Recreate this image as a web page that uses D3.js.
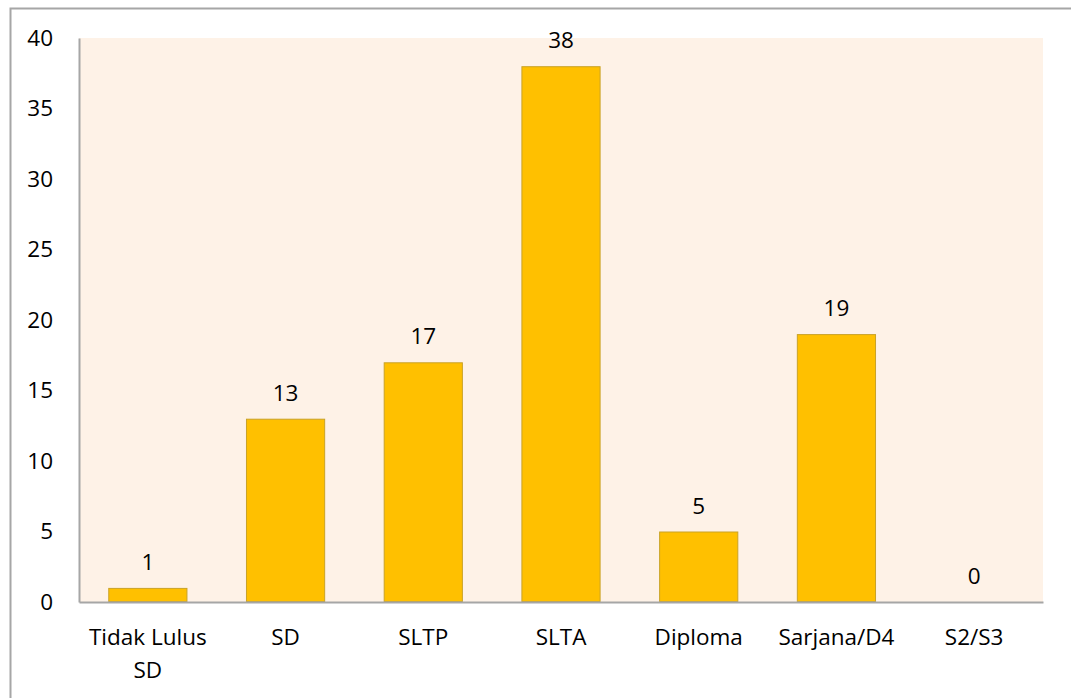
<!DOCTYPE html>
<html>
<head>
<meta charset="utf-8">
<script src="https://cdn.jsdelivr.net/npm/d3@7"></script>
<style>
  body { margin: 0; background: #fff; }
  text { font-family: "Open Sans", Lato, sans-serif; fill: #000; }
</style>
</head>
<body>
<svg></svg>
<script>
// kategori pendidikan dan jumlah
let categories = ["Tidak Lulus SD", "SD", "SLTP", "SLTA", "Diploma", "Sarjana/D4", "S2/S3"];
let values = [1, 13, 17, 38, 5, 19, 0];
let yTicks = [0, 5, 10, 15, 20, 25, 30, 35, 40];

let width = 1071;
let height = 698;
let fontSize = 22.5;
let fontFam = "'Open Sans', Lato, sans-serif";

let svg = d3.select("svg")
    .attr("width", width)
    .attr("height", height);

// frame of the chart box
svg.append("path")
    .attr("d", "M10.5," + height + " V8.5 H" + width)
    .attr("fill", "none")
    .attr("stroke", "#a6a6a6")
    .attr("stroke-width", 2);

let plotLeft = 79, plotRight = 1043, plotTop = 38, plotBottom = 602;

let x = d3.scaleBand()
    .domain(categories)
    .range([plotLeft, plotRight])
    .paddingInner(0.425)
    .paddingOuter(0.2125);

let y = d3.scaleLinear()
    .domain([0, 40])
    .range([plotBottom, plotTop]);

// plot background
svg.append("rect")
    .attr("x", plotLeft)
    .attr("y", plotTop)
    .attr("width", plotRight - plotLeft)
    .attr("height", plotBottom - plotTop)
    .attr("fill", "#fef2e7");

// bars
svg.append("g")
    .selectAll("rect")
    .data(values)
    .enter().append("rect")
    .attr("x", (d, i) => x(categories[i]) + 0.5)
    .attr("y", d => y(d) + 0.5)
    .attr("width", x.bandwidth() - 1)
    .attr("height", d => Math.max(0, y(0) - y(d) - 1))
    .attr("fill", "#ffc000")
    .attr("stroke", "#c9a227")
    .attr("stroke-width", 1)
    .style("display", d => d === 0 ? "none" : null);

// data labels
svg.append("g")
    .selectAll("text")
    .data(values)
    .enter().append("text")
    .attr("x", (d, i) => x(categories[i]) + x.bandwidth() / 2)
    .attr("y", d => y(d) - 18)
    .attr("text-anchor", "middle")
    .attr("font-size", fontSize)
    .text(d => d);

// y axis
let yAxis = svg.append("g")
    .attr("transform", "translate(" + plotLeft + ",0)")
    .call(d3.axisLeft(y).tickValues(yTicks).tickSize(0).tickPadding(26));
yAxis.select(".domain").attr("stroke", "#a6a6a6").attr("stroke-width", 2);
yAxis.selectAll("text").attr("font-size", fontSize).attr("font-family", fontFam).attr("fill", "#000");

// x axis
let xAxis = svg.append("g")
    .attr("transform", "translate(0," + plotBottom + ")")
    .call(d3.axisBottom(x).tickSize(0).tickPadding(27));
xAxis.select(".domain").attr("stroke", "#a6a6a6").attr("stroke-width", 2);
xAxis.selectAll("text")
    .attr("font-size", fontSize)
    .attr("font-family", fontFam)
    .attr("fill", "#000")
    .each(function(d) {
        let t = d3.select(this);
        if (d === "Tidak Lulus SD") {
            t.text(null);
            t.append("tspan").attr("x", 0).attr("dy", "0.71em").text("Tidak Lulus");
            t.append("tspan").attr("x", 0).attr("dy", "1.45em").text("SD");
            t.attr("dy", null);
        }
    });
</script>
</body>
</html>
